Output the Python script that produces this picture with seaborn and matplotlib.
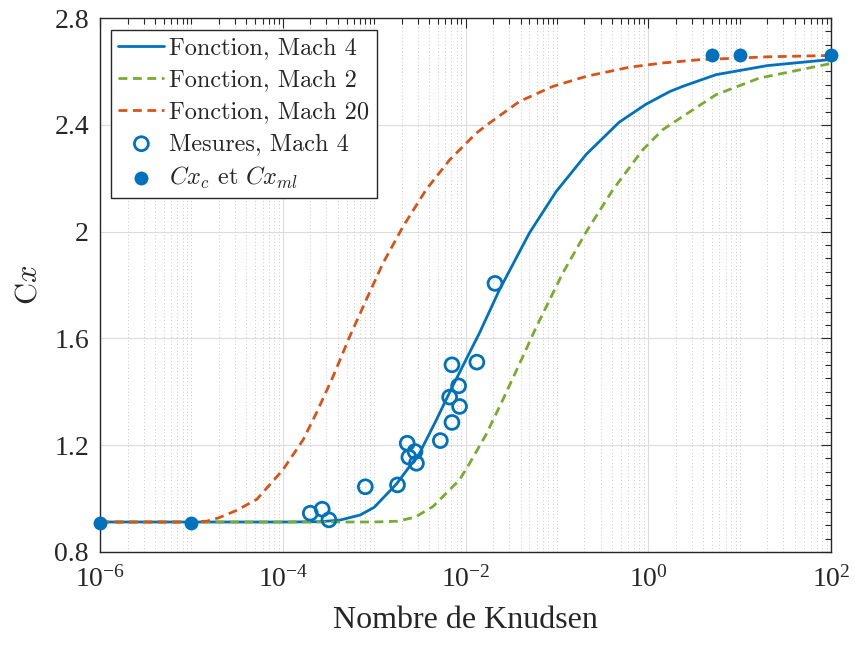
import numpy as np
import pandas as pd
import matplotlib
matplotlib.use("Agg")
import matplotlib.pyplot as plt
import seaborn as sns
from matplotlib.ticker import FixedLocator, MultipleLocator, LogFormatterSciNotation, NullFormatter
from matplotlib.font_manager import FontProperties

# Courbes : nombre de Knudsen / Cx
kn_m4 = [1e-6, 1e-4, 2.5e-4, 4.2e-4, 7e-4, 1e-3, 1.75e-3, 3.14e-3, 4.8e-3, 7.2e-3, 1.1e-2,
         1.42e-2, 2.35e-2, 5e-2, 9.8e-2, 0.21, 0.48, 0.94, 1.72, 2.37, 5.5, 20, 100]
cx_m4 = [0.912, 0.912, 0.913, 0.919, 0.938, 0.967, 1.054, 1.17, 1.295, 1.42, 1.545,
         1.62, 1.782, 1.995, 2.15, 2.29, 2.41, 2.477, 2.525, 2.544, 2.588, 2.622, 2.645]

kn_m2 = [1e-6, 1e-3, 1.8e-3, 2.8e-3, 4.4e-3, 8.6e-3, 1.1e-2, 1.68e-2, 2.56e-2, 3.9e-2,
         5.9e-2, 0.116, 0.21, 0.41, 0.87, 1.44, 1.85, 5.5, 16.3, 100]
cx_m2 = [0.912, 0.912, 0.915, 0.93, 0.97, 1.07, 1.13, 1.24, 1.37, 1.505,
         1.64, 1.845, 2.0, 2.157, 2.307, 2.382, 2.407, 2.513, 2.575, 2.63]

kn_m20 = [1e-6, 1e-5, 1.47e-5, 2e-5, 3.1e-5, 5.2e-5, 1e-4, 1.67e-4, 2.33e-4, 3.55e-4,
          5.4e-4, 8.2e-4, 1.25e-3, 2.07e-3, 3.7e-3, 6.7e-3, 1.31e-2, 1.83e-2, 3.9e-2,
          9.0e-2, 0.21, 0.62, 1.44, 3.6, 20, 100]
cx_m20 = [0.912, 0.912, 0.915, 0.928, 0.955, 0.997, 1.107, 1.22, 1.32, 1.457,
          1.607, 1.745, 1.882, 2.019, 2.157, 2.269, 2.369, 2.407, 2.488,
          2.544, 2.582, 2.616, 2.632, 2.644, 2.655, 2.66]

# Mesures a Mach 4
kn_mes = [2.0e-4, 2.7e-4, 3.2e-4, 8.0e-4, 1.8e-3, 2.3e-3, 2.4e-3, 2.8e-3, 2.9e-3,
          5.3e-3, 7.1e-3, 6.7e-3, 7.1e-3, 8.4e-3, 8.6e-3, 1.33e-2, 2.1e-2]
cx_mes = [0.945, 0.96, 0.92, 1.044, 1.051, 1.207, 1.155, 1.176, 1.132,
          1.217, 1.285, 1.380, 1.501, 1.422, 1.345, 1.511, 1.806]

# Cx continu et moleculaire libre
kn_lim = [1e-6, 1e-5, 5, 10, 100]
cx_lim = [0.91, 0.91, 2.66, 2.66, 2.66]

bleu = "#0072BD"
orange = "#D95319"
vert = "#77AC30"

sns.set_style("white")
plt.rcParams["font.family"] = ["Liberation Serif", "DejaVu Serif"]
plt.rcParams["axes.unicode_minus"] = True

fig = plt.figure(figsize=(8.55, 6.47), dpi=100)
ax = fig.add_axes([0.117, 0.147, 0.855, 0.825])

df_m4 = pd.DataFrame({"kn": kn_m4, "cx": cx_m4})
df_m2 = pd.DataFrame({"kn": kn_m2, "cx": cx_m2})
df_m20 = pd.DataFrame({"kn": kn_m20, "cx": cx_m20})

sns.lineplot(data=df_m4, x="kn", y="cx", ax=ax, color=bleu, lw=2.0,
             label="Fonction, Mach 4", sort=False)
sns.lineplot(data=df_m2, x="kn", y="cx", ax=ax, color=vert, lw=2.0,
             linestyle=(0, (3.2, 2.0)), label="Fonction, Mach 2", sort=False)
sns.lineplot(data=df_m20, x="kn", y="cx", ax=ax, color=orange, lw=2.0,
             linestyle=(0, (3.2, 2.0)), label="Fonction, Mach 20", sort=False)
sns.scatterplot(x=kn_mes, y=cx_mes, ax=ax, s=100, facecolor="none", edgecolor=bleu,
                linewidth=2.0, label="Mesures, Mach 4", zorder=4)
sns.scatterplot(x=kn_lim, y=cx_lim, ax=ax, s=100, color=bleu, edgecolor=bleu,
                linewidth=0, label=r"$Cx_c$ et $Cx_{ml}$", zorder=5, clip_on=False)

ax.set_xscale("log")
ax.set_xlim(1e-6, 1e2)
ax.set_ylim(0.8, 2.8)

ax.xaxis.set_major_locator(FixedLocator([1e-6, 1e-4, 1e-2, 1e0, 1e2]))
ax.xaxis.set_major_formatter(LogFormatterSciNotation())
mineurs = [m * 10.0**e for e in range(-6, 2) for m in range(1, 10)
           if not (m == 1 and e % 2 == 0)]
ax.xaxis.set_minor_locator(FixedLocator(mineurs))
ax.xaxis.set_minor_formatter(NullFormatter())
ax.yaxis.set_major_locator(MultipleLocator(0.4))
ax.yaxis.set_minor_locator(MultipleLocator(0.05))
ax.set_yticks([0.8, 1.2, 1.6, 2.0, 2.4, 2.8])
ax.set_yticklabels(["0.8", "1.2", "1.6", "2", "2.4", "2.8"])

ax.grid(True, which="major", color="#dcdcdc", lw=0.8, ls="-")
ax.grid(True, which="minor", axis="x", color="#c8c8c8", lw=0.7, ls=(0, (1, 2.5)))
ax.set_axisbelow(True)

gris = "#262626"
for sp in ax.spines.values():
    sp.set_color(gris)
    sp.set_linewidth(1.0)
ax.tick_params(which="both", direction="in", top=True, right=True, color=gris,
               labelcolor=gris, labelsize=20, width=0.8)
ax.tick_params(which="major", length=7, pad=8)
ax.tick_params(axis="x", which="major", pad=10)
ax.tick_params(which="minor", length=4)

ax.set_xlabel("Nombre de Knudsen", fontsize=23, color=gris, labelpad=10)
ax.set_ylabel(r"$\mathrm{C}x$", color=gris, labelpad=8,
              fontproperties=FontProperties(size=22, math_fontfamily="cm"))

leg = ax.legend(loc="upper left", bbox_to_anchor=(0.015, 0.9775), frameon=True,
                fancybox=False, edgecolor=gris, framealpha=1, handlelength=1.9,
                handletextpad=0.2, labelspacing=0.4, borderpad=0.3, borderaxespad=0,
                prop=FontProperties(family="cmr10", size=17.5, math_fontfamily="cm"))
leg.get_frame().set_linewidth(1.0)

fig.savefig("out.png", dpi=100)
